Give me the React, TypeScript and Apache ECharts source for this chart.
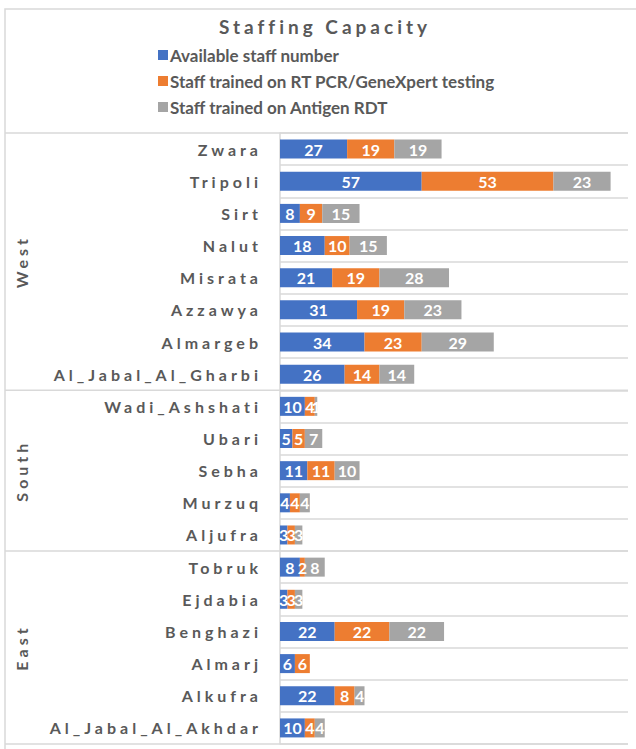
import React, { useEffect, useRef } from "react";
import * as echarts from "echarts";

const TITLE = "Staffing Capacity";
const cities = [
  "Zwara", "Tripoli", "Sirt", "Nalut", "Misrata", "Azzawya", "Almargeb", "Al_Jabal_Al_Gharbi",
  "Wadi_Ashshati", "Ubari", "Sebha", "Murzuq", "Aljufra",
  "Tobruk", "Ejdabia", "Benghazi", "Almarj", "Alkufra", "Al_Jabal_Al_Akhdar",
];
const regionNames = ["West", "South", "East"];
const regionSizes = [8, 5, 6];
const seriesNames = [
  "Available staff number",
  "Staff trained on RT PCR/GeneXpert testing",
  "Staff trained on Antigen RDT",
];
const available = [27, 57, 8, 18, 21, 31, 34, 26, 10, 5, 11, 4, 3, 8, 3, 22, 6, 22, 10];
const rtpcr = [19, 53, 9, 10, 19, 19, 23, 14, 4, 5, 11, 4, 3, 2, 3, 22, 6, 8, 4];
const antigen = [19, 23, 15, 15, 28, 23, 29, 14, 1, 7, 10, 4, 3, 8, 3, 22, 0, 4, 4];
const colors = ["#4472C4", "#ED7D31", "#A5A5A5"];

const FONT = "Lato";
const TEXT = "#595959";
const LINE = "#d9d9d9";

export default function App() {
  const ref = useRef<HTMLDivElement>(null);
  useEffect(() => {
    const el = ref.current!;
    const chart = echarts.init(el, undefined, { renderer: "svg" });
    const values = [available, rtpcr, antigen];
    chart.setOption({
      animation: false,
      textStyle: { fontFamily: FONT },
      title: {
        text: TITLE,
        left: 219,
        top: 17,
        padding: 0,
        textStyle: { fontFamily: FONT, fontSize: 19, fontWeight: "bold", color: TEXT },
      },
      legend: {
        orient: "vertical",
        left: 158,
        top: 46,
        padding: 0,
        itemWidth: 10,
        itemHeight: 10,
        itemGap: 8,
        icon: "rect",
        selectedMode: false,
        textStyle: { fontFamily: FONT, fontSize: 17, fontWeight: "bold", color: TEXT, lineHeight: 18, padding: [0, 0, 0, -3] },
        data: seriesNames,
      },
      grid: { left: 280, right: 8, top: 133, bottom: 5, containLabel: false },
      xAxis: {
        type: "value",
        min: 0,
        max: 140,
        show: false,
        splitLine: { show: false },
      },
      yAxis: {
        type: "category",
        inverse: true,
        data: cities,
        axisLine: { show: true, lineStyle: { color: LINE, width: 1.5 } },
        axisTick: { show: false },
        splitLine: { show: true, lineStyle: { color: LINE, width: 1.5 } },
        axisLabel: {
          margin: 18,
          fontFamily: FONT,
          fontSize: 16,
          fontWeight: "bold",
          color: TEXT,
          interval: 0,
        },
      },
      series: seriesNames.map((name, i) => ({
        name,
        type: "bar",
        stack: "total",
        barWidth: 19,
        data: values[i],
        itemStyle: { color: colors[i] },
        label: {
          show: true,
          position: "inside",
          color: "#ffffff",
          fontFamily: FONT,
          fontSize: 16,
          fontWeight: "bold",
          formatter: (p: any) => (p.value ? String(p.value) : ""),
        },
      })),
    });

    const y0 = chart.convertToPixel({ yAxisIndex: 0 }, cities[0]) as number;
    const y1 = chart.convertToPixel({ yAxisIndex: 0 }, cities[1]) as number;
    const band = y1 - y0;
    const boundaries: number[] = [y0 - band / 2];
    const centers: number[] = [];
    let idx = 0;
    regionSizes.forEach((n) => {
      const first = chart.convertToPixel({ yAxisIndex: 0 }, cities[idx]) as number;
      const last = chart.convertToPixel({ yAxisIndex: 0 }, cities[idx + n - 1]) as number;
      centers.push((first + last) / 2);
      boundaries.push(last + band / 2);
      idx += n;
    });
    const graphics: any[] = [
      {
        type: "rect",
        shape: { x: 5, y: 9, width: 800, height: 900 },
        style: { fill: "none", stroke: LINE, lineWidth: 1.5 },
        silent: true,
      },
    ];
    boundaries.forEach((b) => {
      graphics.push({
        type: "line",
        shape: { x1: 5, y1: b, x2: 628, y2: b },
        style: { stroke: LINE, lineWidth: 1.5 },
        silent: true,
      });
    });
    regionNames.forEach((r, i) => {
      graphics.push({
        type: "text",
        x: 21,
        y: centers[i],
        rotation: Math.PI / 2,
        style: {
          text: r,
          fontFamily: FONT,
          fontSize: 16,
          fontWeight: "bold",
          fill: TEXT,
          align: "center",
          verticalAlign: "middle",
        },
        silent: true,
      });
    });
    chart.setOption({ graphic: graphics });

    const applySpacing = () => {
      const svg = el.querySelector("svg");
      if (!svg) return;
      svg.querySelectorAll("text").forEach((t) => {
        const s = t.textContent || "";
        let sp: number | null = null;
        if (s === TITLE) sp = 4;
        else if (cities.includes(s) || regionNames.includes(s)) sp = 4;
        if (sp != null) (t as SVGTextElement).style.letterSpacing = sp + "px";
      });
    };
    applySpacing();
    chart.on("finished", applySpacing);
    const raf = requestAnimationFrame(applySpacing);

    return () => {
      cancelAnimationFrame(raf);
      chart.dispose();
    };
  }, []);
  return (
    <div
      ref={ref}
      style={{ position: "fixed", left: 0, top: 0, width: 636, height: 749, background: "#ffffff" }}
    />
  );
}
